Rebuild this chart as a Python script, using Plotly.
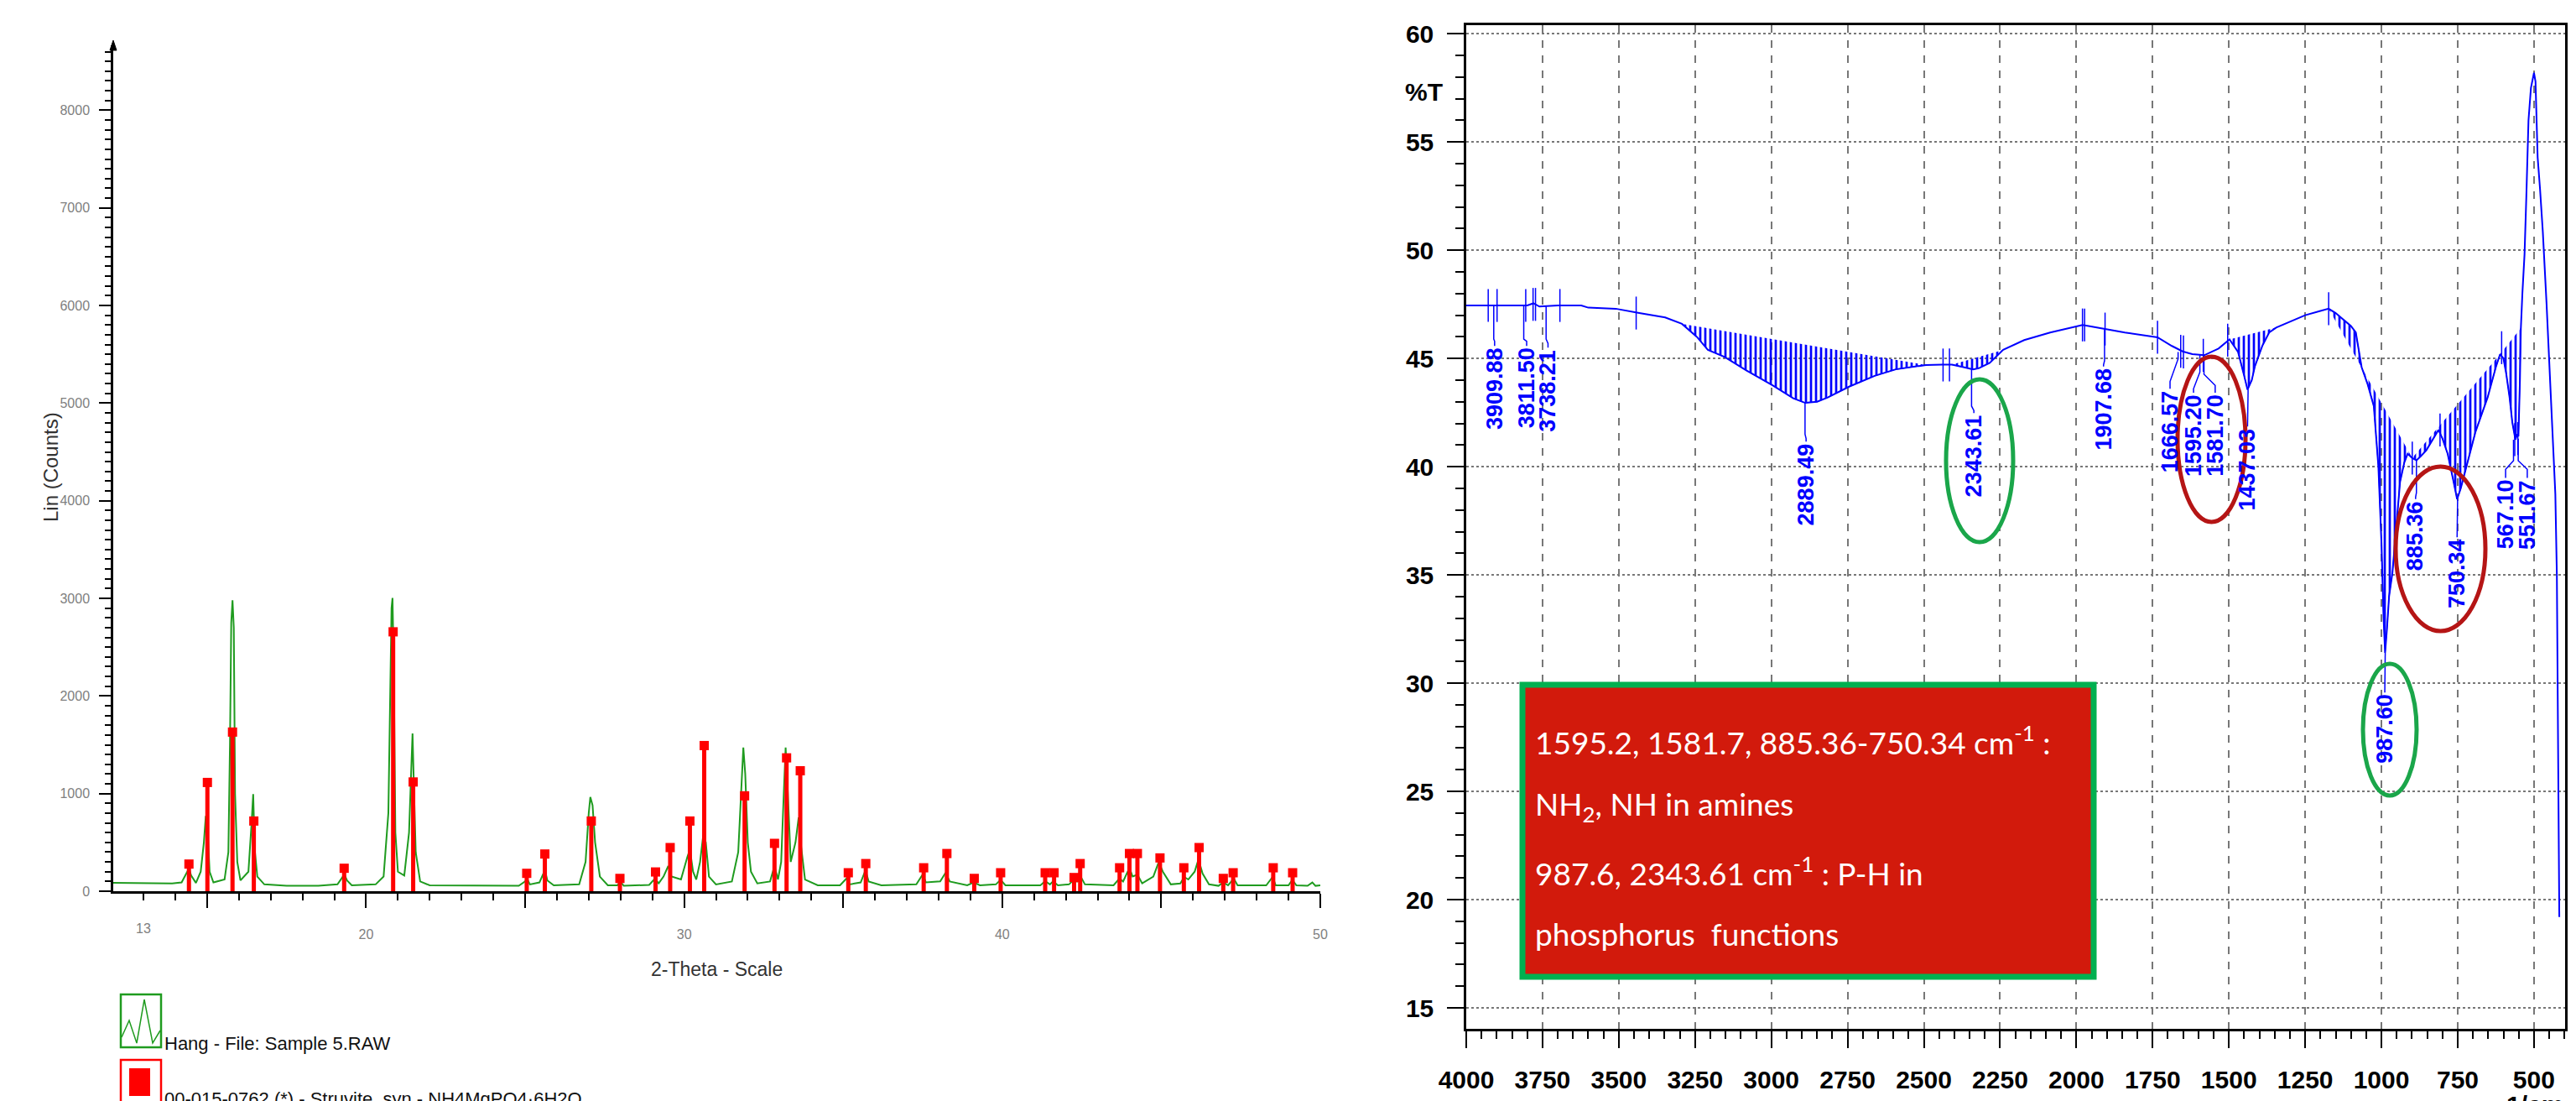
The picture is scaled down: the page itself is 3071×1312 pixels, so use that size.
import plotly.graph_objects as go

W, H = 3071, 1312


def px(x):
    return x / W


def py(y):
    return 1 - y / H


# ---------------- XRD (left panel) ----------------
xrd_2theta = [12.05, 13.0, 13.9, 14.2, 14.35, 14.43, 14.5, 14.65, 14.8, 14.9, 14.96, 15.02, 15.08, 15.2,
              15.55, 15.67, 15.72, 15.76, 15.80, 15.84, 15.88, 15.95, 16.05, 16.3, 16.4, 16.45, 16.5,
              16.58, 16.8, 17.5, 18.5, 19.1, 19.25, 19.32, 19.4, 19.55, 20.3, 20.55, 20.7, 20.76, 20.8,
              20.83, 20.87, 20.92, 21.0, 21.2, 21.35, 21.42, 21.46, 21.5, 21.56, 21.7, 22.0, 24.8, 25.0,
              25.06, 25.15, 25.45, 25.58, 25.62, 25.7, 25.9, 26.7, 26.9, 27.0, 27.05, 27.12, 27.2, 27.35,
              27.6, 27.9, 28.0, 28.1, 28.9, 29.08, 29.2, 29.35, 29.5, 29.6, 29.9, 30.1, 30.18, 30.28,
              30.38, 30.5, 30.6, 30.68, 30.78, 31.0, 31.5, 31.7, 31.8, 31.86, 31.92, 32.0, 32.1, 32.3,
              32.7, 32.84, 32.95, 33.05, 33.12, 33.19, 33.26, 33.35, 33.5, 33.6, 33.68, 33.8, 34.2, 34.9,
              35.1, 35.2, 35.55, 35.7, 35.8, 36.2, 37.3, 37.5, 37.6, 38.05, 38.22, 38.35, 38.9, 39.1,
              39.3, 39.8, 39.95, 40.1, 41.2, 41.35, 41.5, 41.6, 41.75, 42.1, 42.25, 42.35, 42.45, 42.6,
              43.5, 43.68, 43.8, 44.0, 44.1, 44.25, 44.4, 44.75, 44.92, 45.05, 45.3, 45.6, 45.72, 45.85,
              46.05, 46.17, 46.3, 46.5, 46.8, 46.95, 47.1, 47.28, 47.4, 48.3, 48.5, 48.6, 49.0, 49.12,
              49.25, 49.6, 49.75, 49.85, 50.0]
xrd_counts = [85, 85, 80, 90, 180, 232, 160, 85, 200, 500, 770, 600, 200, 90,
              120, 400, 1500, 2750, 2980, 2700, 1000, 300, 110, 200, 700, 994, 420,
              150, 70, 55, 55, 70, 140, 170, 110, 60, 70, 150, 800, 2300, 2900,
              3004, 2300, 600, 200, 160, 600, 1250, 1615, 1100, 400, 100, 60, 55, 100,
              130, 70, 90, 180, 215, 110, 60, 70, 300, 800, 965, 880, 500, 150,
              60, 60, 97, 55, 65, 129, 80, 150, 258, 150, 120, 350, 427, 200,
              120, 300, 575, 500, 150, 70, 100, 400, 1100, 1472, 1200, 500, 200, 80,
              100, 258, 120, 300, 900, 1472, 1000, 300, 500, 756, 450, 120, 60, 60,
              129, 70, 90, 215, 100, 60, 70, 172, 90, 100, 189, 100, 60, 89,
              60, 70, 117, 60, 60, 103, 70, 103, 60, 70, 117, 100, 160, 70,
              60, 129, 100, 240, 150, 170, 80, 150, 298, 200, 70, 80, 146, 120,
              200, 326, 180, 70, 55, 90, 60, 129, 60, 60, 146, 60, 60, 117,
              60, 55, 89, 55, 60]

ref_2theta = [14.43, 15.01, 15.80, 16.47, 19.31, 20.85, 21.48, 25.05, 25.62, 27.08, 27.98, 29.10,
              29.56, 30.18, 30.63, 31.90, 32.84, 33.22, 33.65, 35.16, 35.71, 37.53, 38.26, 39.12,
              39.95, 41.35, 41.63, 42.26, 42.45, 43.69, 44.00, 44.25, 44.96, 45.71, 46.19, 46.95,
              47.26, 48.52, 49.13]
ref_counts = [278, 1114, 1630, 719, 235, 2657, 1119, 183, 381, 719, 131, 197,
              447, 719, 1492, 977, 490, 1366, 1234, 189, 283, 240, 386, 131,
              189, 189, 189, 140, 283, 240, 386, 386, 341, 240, 447, 131,
              189, 240, 189]

xrd_major_ticks = [15, 20, 25, 30, 35, 40, 45, 50]
xrd_major_text = ["", "20", "", "30", "", "40", "", "50"]
xrd_y_ticks = [0, 1000, 2000, 3000, 4000, 5000, 6000, 7000, 8000]

# ---------------- FTIR (right panel) ----------------
ir_wn = [4000, 3930, 3900, 3800, 3780, 3760, 3700, 3623, 3600, 3510, 3433, 3348, 3293, 3244, 3208,
         3153, 3082, 2996, 2928, 2889, 2850, 2815, 2745, 2661, 2592, 2493, 2440, 2408, 2370, 2339,
         2320, 2284, 2240, 2171, 2086, 2000, 1980, 1960, 1906, 1841, 1734, 1687, 1652, 1620, 1581,
         1534, 1498, 1470, 1450, 1439, 1425, 1415, 1390, 1368, 1345, 1300, 1250, 1200, 1173, 1150,
         1131, 1100, 1084, 1065, 1045, 1025, 1010, 1000, 993, 988, 982, 975, 964, 950, 939, 925,
         914, 899, 885, 870, 853, 830, 813, 800, 783, 765, 752, 740, 722, 692, 652, 625, 611, 600,
         591, 580, 571, 561, 555, 551, 546, 543, 538, 531, 525, 518, 510, 500, 495, 488, 480, 471,
         459, 447, 430, 425, 420, 417]
ir_T = [47.45, 47.45, 47.45, 47.45, 47.55, 47.4, 47.45, 47.45, 47.35, 47.3, 47.1, 46.9, 46.6, 46.0, 45.4,
        45.07, 44.45, 43.76, 43.16, 42.95, 43.0, 43.2, 43.7, 44.2, 44.5, 44.7, 44.72, 44.72, 44.6, 44.5,
        44.55, 44.8, 45.4, 45.85, 46.2, 46.5, 46.55, 46.5, 46.36, 46.2, 45.98, 45.58, 45.33, 45.2, 45.15,
        45.46, 45.88, 45.3, 44.2, 43.56, 44.0, 44.63, 45.6, 46.2, 46.43, 46.7, 47.0, 47.2, 47.3, 47.1,
        46.88, 46.5, 46.2, 44.6, 43.8, 42.8, 40.0, 36.5, 33.0, 31.4, 32.5, 34.0, 35.1, 37.5, 39.3, 40.2,
        40.6, 40.4, 40.3, 40.5, 40.76, 41.3, 41.7, 41.3, 40.6, 39.4, 38.5, 39.0, 40.0, 41.6, 43.2, 44.6, 45.2, 45.0,
        44.3, 43.2, 42.05, 41.25, 41.5, 41.4, 44.0, 46.4, 48.0, 49.8, 52.5, 56.0, 57.5, 58.2, 57.8, 54.3, 52.8, 50.85,
        47.6, 43.95, 38.75, 35.0, 27.0, 19.2]

# integration (hatched) regions: start / end wavenumbers
hatch_start = [3293, 2408, 1498, 1173, 899, 611]
hatch_end = [2493, 2240, 1345, 899, 611, 543]

# small vertical region markers on the trace
mark_wn = [3928, 3899, 3805, 3781, 3773, 3693, 3443, 2437, 2416, 1980, 1973, 1906, 1734, 1658, 1649,
           1584, 1504, 1173, 899, 808, 606, 563, 553]
mark_T = [47.45, 47.45, 47.45, 47.5, 47.5, 47.45, 47.1, 44.7, 44.7, 46.55, 46.55, 46.36, 45.98, 45.33, 45.3,
          45.15, 45.85, 47.3, 40.4, 41.7, 45.5, 41.25, 41.3]

# peak labels
pk_text = ["3909.88", "3811.50", "3738.21", "2889.49", "2343.61", "1907.68", "1666.57", "1595.20",
           "1581.70", "1437.03", "987.60", "885.36", "750.34", "567.10", "551.67"]
pk_wn = [3909.88, 3811.50, 3738.21, 2889.49, 2343.61, 1907.68, 1666.57, 1595.20,
         1581.70, 1437.03, 987.60, 885.36, 750.34, 567.10, 551.67]
pk_T = [47.45, 47.45, 47.45, 42.95, 44.5, 46.36, 45.3, 45.15, 45.15, 43.56, 31.4, 40.3, 38.5, 41.25, 41.3]
pk_elbow1 = [45.9, 45.9, 45.9, 41.5, 42.8, 44.9, 44.98, 44.37, 44.27, 42.2, 29.9, 38.8, 37.0, 40.28, 40.28]
pk_elbow2 = [45.8, 45.8, 45.7, 41.3, 42.6, 44.7, 43.94, 43.6, 43.76, 42.0, 29.7, 38.6, 36.9, 39.88, 39.88]
lbl_wn = [3907, 3802, 3732, 2886, 2336, 1911, 1693, 1616, 1545, 1439, 989, 888, 752, 593, 522]
lbl_top = [45.58, 45.58, 45.5, 41.16, 42.48, 44.63, 43.6, 43.42, 43.42, 41.86, 29.57, 38.5, 36.74, 39.48, 39.48]

ir_x_ticks = [4000, 3750, 3500, 3250, 3000, 2750, 2500, 2250, 2000, 1750, 1500, 1250, 1000, 750, 500]
ir_y_ticks = [15, 20, 25, 30, 35, 40, 45, 50, 55, 60]

GREEN = "#1f9b1f"
RED = "#ff0000"
BLUE = "#0000ff"

fig = go.Figure()

# XRD measured pattern
fig.add_trace(go.Scatter(x=xrd_2theta, y=xrd_counts, mode="lines",
                         line=dict(color=GREEN, width=2), xaxis="x", yaxis="y",
                         showlegend=False, hoverinfo="skip"))
# reference sticks
stick_x, stick_y = [], []
for p, c in zip(ref_2theta, ref_counts):
    stick_x += [p, p, None]
    stick_y += [0, c, None]
fig.add_trace(go.Scatter(x=stick_x, y=stick_y, mode="lines",
                         line=dict(color=RED, width=5), xaxis="x", yaxis="y",
                         showlegend=False, hoverinfo="skip"))
fig.add_trace(go.Scatter(x=ref_2theta, y=ref_counts, mode="markers",
                         marker=dict(symbol="square", size=11, color=RED, line=dict(width=0)),
                         xaxis="x", yaxis="y", showlegend=False, hoverinfo="skip"))

# FTIR hatched areas
for a, b in zip(hatch_start, hatch_end):
    i0, i1 = ir_wn.index(a), ir_wn.index(b)
    fig.add_trace(go.Scatter(x=ir_wn[i0:i1 + 1], y=ir_T[i0:i1 + 1], mode="lines",
                             line=dict(color=BLUE, width=1),
                             fill="toself", fillcolor=BLUE,
                             fillpattern=dict(shape="|", size=6, solidity=0.45, fgcolor=BLUE,
                                              bgcolor="rgba(0,0,0,0)", fgopacity=1),
                             xaxis="x2", yaxis="y2", showlegend=False, hoverinfo="skip"))
# FTIR spectrum
fig.add_trace(go.Scatter(x=ir_wn, y=ir_T, mode="lines", line=dict(color=BLUE, width=2),
                         xaxis="x2", yaxis="y2", showlegend=False, hoverinfo="skip"))
fig.add_trace(go.Scatter(x=mark_wn, y=mark_T, mode="markers",
                         marker=dict(symbol="line-ns", size=28, line=dict(color=BLUE, width=1.5)),
                         xaxis="x2", yaxis="y2", showlegend=False, hoverinfo="skip"))
# leader lines
lx, ly = [], []
for w, t, e1, e2, xw, top in zip(pk_wn, pk_T, pk_elbow1, pk_elbow2, lbl_wn, lbl_top):
    lx += [w, w, xw, xw, None]
    ly += [t, e1, e2, top, None]
fig.add_trace(go.Scatter(x=lx, y=ly, mode="lines", line=dict(color=BLUE, width=1.5),
                         xaxis="x2", yaxis="y2", showlegend=False, hoverinfo="skip"))

annotations = []
for txt, xw, top in zip(pk_text, lbl_wn, lbl_top):
    annotations.append(dict(x=xw, y=top, xref="x2", yref="y2", text=txt, showarrow=False,
                            textangle=-90, xanchor="center", yanchor="top",
                            font=dict(family="Liberation Sans, Arial", size=27, color=BLUE, weight="bold")))

grey = "#808080"
# XRD titles / labels
annotations += [
    dict(x=13, y=py(1098), xref="x", yref="paper", text="13", showarrow=False,
         xanchor="center", yanchor="middle",
         font=dict(family="Liberation Sans, Arial", size=16, color=grey)),
    dict(x=px(846), y=py(1147), xref="paper", yref="paper", text="2-Theta - Scale", showarrow=False,
         xanchor="center", yanchor="middle",
         font=dict(family="Liberation Sans, Arial", size=23, color="#333333")),
    dict(x=px(52), y=py(548), xref="paper", yref="paper", text="Lin (Counts)", showarrow=False,
         textangle=-90, xanchor="center", yanchor="middle",
         font=dict(family="Liberation Sans, Arial", size=24, color="#333333")),
    dict(x=px(186), y=py(1235), xref="paper", yref="paper", text="Hang - File: Sample 5.RAW",
         showarrow=False, xanchor="left", yanchor="middle",
         font=dict(family="Liberation Sans, Arial", size=22, color="#111111")),
    dict(x=px(186), y=py(1287), xref="paper", yref="paper",
         text="00-015-0762 (*) - Struvite, syn - NH4MgPO4·6H2O",
         showarrow=False, xanchor="left", yanchor="top",
         font=dict(family="Liberation Sans, Arial", size=22, color="#111111")),
    # FTIR axis titles
    dict(x=px(1689), y=py(101), xref="paper", yref="paper", text="%T", showarrow=False,
         xanchor="center", yanchor="middle",
         font=dict(family="Liberation Sans, Arial", size=30, color="black", weight="bold")),
    dict(x=px(3014), y=py(1290), xref="paper", yref="paper", text="1/cm", showarrow=False,
         xanchor="center", yanchor="top",
         font=dict(family="Liberation Sans, Arial", size=30, color="black", weight="bold")),
]

box_font = dict(family="Lato, Open Sans, sans-serif", size=37, color="white")
box_lines = ["1595.2, 1581.7, 885.36-750.34 cm<sup>-1</sup> :",
             "NH<sub>2</sub>, NH in amines",
             "987.6, 2343.61 cm<sup>-1</sup> : P-H in",
             "phosphorus  functions"]
box_line_y = [874, 952, 1030, 1104]
for t, yy in zip(box_lines, box_line_y):
    annotations.append(dict(x=px(1820), y=py(yy), xref="paper", yref="paper", text=t,
                            showarrow=False, xanchor="left", yanchor="middle", font=box_font))

shapes = [
    # annotation box
    dict(type="rect", xref="paper", yref="paper", x0=px(1807), x1=px(2488), y0=py(1156), y1=py(808),
         fillcolor="#d21a0c", line=dict(color="#00b050", width=7), layer="above"),
    # ellipses
    dict(type="circle", xref="paper", yref="paper", x0=px(2312), x1=px(2392), y0=py(638), y1=py(444),
         line=dict(color="#1aa64a", width=5)),
    dict(type="circle", xref="paper", yref="paper", x0=px(2588), x1=px(2669), y0=py(614), y1=py(417),
         line=dict(color="#b51515", width=5)),
    dict(type="circle", xref="paper", yref="paper", x0=px(2848), x1=px(2955), y0=py(744), y1=py(548),
         line=dict(color="#b51515", width=5)),
    dict(type="circle", xref="paper", yref="paper", x0=px(2809), x1=px(2873), y0=py(940), y1=py(783),
         line=dict(color="#1aa64a", width=5)),
    # XRD legend icons
    dict(type="rect", xref="paper", yref="paper", x0=px(136), x1=px(184), y0=py(1240), y1=py(1177),
         line=dict(color=GREEN, width=2.5)),
    dict(type="path", xref="paper", yref="paper",
         path="M {:.5f},{:.5f} L {:.5f},{:.5f} L {:.5f},{:.5f} L {:.5f},{:.5f} L {:.5f},{:.5f} L {:.5f},{:.5f}".format(
             px(137), py(1228), px(146), py(1208), px(155), py(1235), px(164), py(1183),
             px(174), py(1235), px(183), py(1220)),
         line=dict(color=GREEN, width=1.5)),
    dict(type="rect", xref="paper", yref="paper", x0=px(136), x1=px(184), y0=py(1330), y1=py(1255),
         line=dict(color=RED, width=2.5)),
    dict(type="rect", xref="paper", yref="paper", x0=px(146), x1=px(171), y0=py(1298), y1=py(1265),
         fillcolor=RED, line=dict(width=0)),
    # arrow tip on top of the XRD intensity axis
    dict(type="path", xref="paper", yref="paper",
         path="M {:.5f},{:.5f} L {:.5f},{:.5f} L {:.5f},{:.5f} Z".format(
             px(127), py(40), px(123), py(52), px(131), py(52)),
         fillcolor="black", line=dict(color="black", width=1)),
]

tick_font_l = dict(family="Liberation Sans, Arial", size=16, color=grey)
tick_font_r = dict(family="Liberation Sans, Arial", size=30, color="black", weight="bold")

fig.update_layout(
    width=W, height=H,
    margin=dict(l=0, r=0, t=0, b=0, autoexpand=False),
    paper_bgcolor="white", plot_bgcolor="white",
    showlegend=False,
    xaxis=dict(domain=[px(127), px(1566)], range=[12.05, 50], anchor="y", automargin=False,
               showline=True, linecolor="black", linewidth=2.5,
               tickmode="array", tickvals=xrd_major_ticks, ticktext=xrd_major_text,
               ticks="outside", ticklen=17, tickwidth=2, tickcolor="black",
               minor=dict(tickmode="linear", tick0=0, dtick=1, ticklen=8, tickwidth=1.5,
                          tickcolor="black", showgrid=False),
               tickfont=tick_font_l, ticklabelstandoff=18,
               showgrid=False, zeroline=False),
    yaxis=dict(domain=[py(1054), py(46)], range=[0, 8665], anchor="x", automargin=False,
               showline=True, linecolor="black", linewidth=2.5,
               tickmode="array", tickvals=xrd_y_ticks,
               ticks="outside", ticklen=14, tickwidth=2, tickcolor="black",
               minor=dict(tickmode="linear", tick0=0, dtick=100, ticklen=7, tickwidth=1.5,
                          tickcolor="black", showgrid=False),
               tickfont=tick_font_l, ticklabelstandoff=8,
               showgrid=False, zeroline=False),
    xaxis2=dict(domain=[px(1740), px(3050)], range=[4000, 398], anchor="y2", automargin=False,
                showline=True, mirror=True, linecolor="black", linewidth=2.5,
                tickmode="array", tickvals=ir_x_ticks,
                ticks="outside", ticklen=21, tickwidth=2, tickcolor="black",
                minor=dict(tickmode="linear", tick0=0, dtick=50, ticklen=10, tickwidth=1.5,
                           tickcolor="black", showgrid=False),
                tickfont=tick_font_r, ticklabelstandoff=12,
                showgrid=True, gridcolor="#777777", gridwidth=1.5, griddash="dash",
                zeroline=False),
    yaxis2=dict(domain=[py(1217.5), py(22)], range=[14.05, 60.4], anchor="x2", automargin=False,
                showline=True, mirror=True, linecolor="black", linewidth=2.5,
                tickmode="array", tickvals=ir_y_ticks,
                ticks="outside", ticklen=20, tickwidth=2, tickcolor="black",
                minor=dict(tickmode="linear", tick0=0, dtick=1, ticklen=10, tickwidth=1.5,
                           tickcolor="black", showgrid=False),
                tickfont=tick_font_r, ticklabelstandoff=10,
                showgrid=True, gridcolor="#777777", gridwidth=1.5, griddash="dot",
                zeroline=False),
    annotations=annotations,
    shapes=shapes,
)

fig.write_html("out.html")
